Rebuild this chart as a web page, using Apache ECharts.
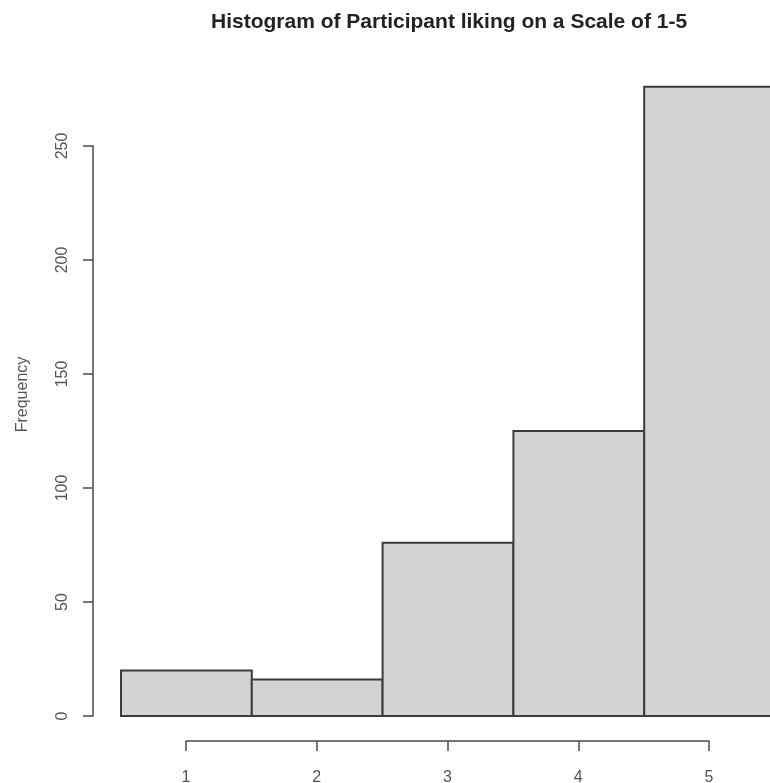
<!DOCTYPE html>
<html lang="en">
<head>
    <meta charset="UTF-8">
    <title>Histogram of Participant liking</title>
    <script type="text/javascript" src="https://cdn.jsdelivr.net/npm/echarts@6/dist/echarts.min.js"></script>
    <style>
        html, body { margin: 0; padding: 0; background: #fff; }
    </style>
</head>
<body>
    <div id="chart" style="width:770px;height:783px;"></div>
</body>
<script type="text/javascript">
    var myChart = echarts.init(document.getElementById('chart'));

    // rating scale and how many participants gave each rating
    var categories = [1, 2, 3, 4, 5];
    var counts = [20, 16, 76, 125, 276];
    var yTicks = [0, 50, 100, 150, 200, 250];

    var data = categories.map(function (c, i) { return [c, counts[i]]; });

    // each bin spans half a unit on both sides of its rating
    function renderItem(params, api) {
        var x = api.value(0);
        var p0 = api.coord([x - 0.5, api.value(1)]);
        var p1 = api.coord([x + 0.5, 0]);
        return {
            type: 'rect',
            shape: { x: p0[0], y: p0[1], width: p1[0] - p0[0], height: p1[1] - p0[1] },
            style: { fill: '#d3d3d3', stroke: '#3c3c3c', lineWidth: 2 }
        };
    }

    var axisColor = '#4a4a4a';
    var labelFont = { fontFamily: 'Liberation Sans', fontSize: 16, color: '#555' };

    var options = {
        animation: false,
        title: {
            text: 'Histogram of Participant liking on a Scale of 1-5',
            left: 206,
            top: 7,
            textStyle: { fontFamily: 'Liberation Sans', fontSize: 21, fontWeight: 'bold', color: '#222' }
        },
        grid: [
            // data area: bins 0.5..5.5 (last bin runs off the right edge)
            { left: 121, right: -5, top: 73, bottom: 67, outerBoundsMode: 'none' },
            // R style axes: x from 1 to 5, y from 0 to 250
            { left: 186, right: 61, top: 146, bottom: 67, outerBoundsMode: 'none' }
        ],
        xAxis: [
            { gridIndex: 0, type: 'value', min: 0.5, max: 5.5, show: false },
            {
                gridIndex: 1, type: 'value', min: 1, max: 5, interval: 1,
                position: 'bottom', offset: 25,
                splitLine: { show: false },
                axisLine: { show: true, onZero: false, lineStyle: { color: axisColor, width: 1.5 } },
                axisTick: { show: true, length: 10, lineStyle: { color: axisColor, width: 1.5 } },
                axisLabel: Object.assign({ margin: 29 }, labelFont)
            }
        ],
        yAxis: [
            {
                gridIndex: 0, type: 'value', min: 0, max: 282,
                name: 'Frequency', nameLocation: 'middle', nameRotate: 90, nameGap: 90,
                nameTextStyle: labelFont,
                axisLine: { show: false }, axisTick: { show: false },
                axisLabel: { show: false }, splitLine: { show: false }
            },
            {
                gridIndex: 1, type: 'value', min: yTicks[0], max: yTicks[yTicks.length - 1], interval: 50,
                position: 'left', offset: 93,
                splitLine: { show: false },
                axisLine: { show: true, onZero: false, lineStyle: { color: axisColor, width: 1.5 } },
                axisTick: { show: true, length: 10, lineStyle: { color: axisColor, width: 1.5 } },
                axisLabel: Object.assign({ rotate: 90, margin: 22 }, labelFont)
            }
        ],
        series: [{
            type: 'custom',
            xAxisIndex: 0,
            yAxisIndex: 0,
            renderItem: renderItem,
            encode: { x: 0, y: 1 },
            data: data
        }]
    };
    myChart.setOption(options);
</script>
</html>
